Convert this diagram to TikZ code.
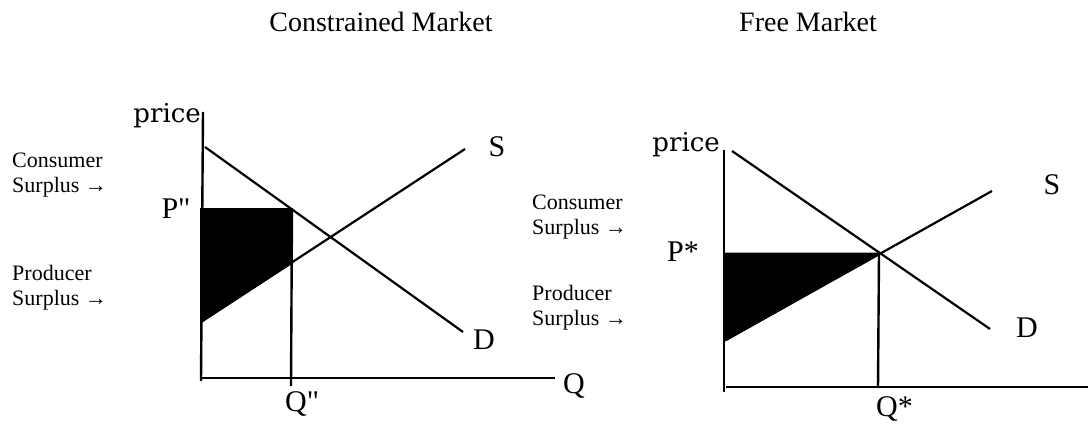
\documentclass[tikz,border=0pt]{standalone}
\usepackage{fontspec}
\setmainfont{Liberation Serif}[Ligatures=TeXOff]
\newfontfamily\pricefont{DejaVu Serif}
\usetikzlibrary{positioning}

\begin{document}
\begin{tikzpicture}[x=1pt,y=-1pt,
    axis/.style={line width=2.4pt},
    curve/.style={line width=2.2pt},
    surplus/.style={fill=black,draw=black,line width=1.6pt},
    title/.style={font=\fontsize{28}{32}\selectfont},
    side/.style={font=\fontsize{22}{25}\selectfont,align=left,anchor=north west,inner sep=0pt},
    axlbl/.style={font=\fontsize{30}{34}\selectfont,inner sep=0pt},
    pricelbl/.style={font=\pricefont\fontsize{26}{30}\selectfont,inner sep=0pt,anchor=base east}
  ]
  \useasboundingbox (0,0) rectangle (1088,427);

  % titles
  \node[title] (tCon) at (381,22) {Constrained Market};
  \node[title] (tFree) at (808,22) {Free Market};

  % constrained market
  \coordinate (Ltop) at (203,112);
  \coordinate (Lbot) at (201,381);
  \coordinate (Lx0) at (201,378);
  \coordinate (Lx1) at (555,378);
  \coordinate (Ld1) at (205,147);
  \coordinate (Ld2) at (463,332);
  \coordinate (Ls1) at (201,322);
  \coordinate (Ls2) at (465,149);
  \coordinate (Lp) at (201,209);
  \coordinate (Lpq) at (292,209);
  \coordinate (Lsq) at (292,263);
  \coordinate (Lq) at (291,386);

  \fill[surplus] (Lp) -- (Lpq) -- (Lsq) -- (Ls1) -- cycle;
  \draw[axis] (Ltop) -- (Lbot);
  \draw[axis] (Lx0) -- (Lx1);
  \draw[curve] (Ld1) -- (Ld2);
  \draw[curve] (Ls1) -- (Ls2);
  \draw[axis] (Lpq) -- (Lq);

  \node[pricelbl] (LpriceLbl) at (201,123) {price};
  \node[axlbl] (LPlbl) at (176,209) {P"};
  \node[axlbl,anchor=north west] (LQlbl) at (285,391) {Q"};
  \node[axlbl] (LSlbl) at (497,147) {S};
  \node[axlbl] (LDlbl) at (484,340) {D};
  \node[axlbl] (LQax) at (574,386) {Q};
  \node[side] (LCS) at (12,153) {Consumer\\Surplus →};
  \node[side] (LPS) at (12,265) {Producer\\Surplus →};

  % free market
  \coordinate (Rtop) at (724,150);
  \coordinate (Rbot) at (724,392);
  \coordinate (Rx0) at (726,387);
  \coordinate (Rx1) at (1088,387);
  \coordinate (Rd1) at (732,151);
  \coordinate (Rd2) at (990,329);
  \coordinate (Rs1) at (726,340);
  \coordinate (Rs2) at (992,191);
  \coordinate (Rp) at (724,253.5);
  \coordinate (Req) at (879,253.5);
  \coordinate (Rq) at (878,388);

  \fill[surplus] (Rp) -- (Req) -- (Rs1) -- cycle;
  \draw[axis] (Rtop) -- (Rbot);
  \draw[axis] (Rx0) -- (Rx1);
  \draw[curve] (Rd1) -- (Rd2);
  \draw[curve] (Rs1) -- (Rs2);
  \draw[axis] (Req) -- (Rq);

  \node[pricelbl] (RpriceLbl) at (720,152) {price};
  \node[axlbl] (RPlbl) at (683,252) {P*};
  \node[axlbl,anchor=north west] (RQlbl) at (876,396) {Q*};
  \node[axlbl] (RSlbl) at (1052,185) {S};
  \node[axlbl] (RDlbl) at (1027,328) {D};
  \node[side] (RCS) at (532,195) {Consumer\\Surplus →};
  \node[side] (RPS) at (532,285) {Producer\\Surplus →};
\end{tikzpicture}
\end{document}
